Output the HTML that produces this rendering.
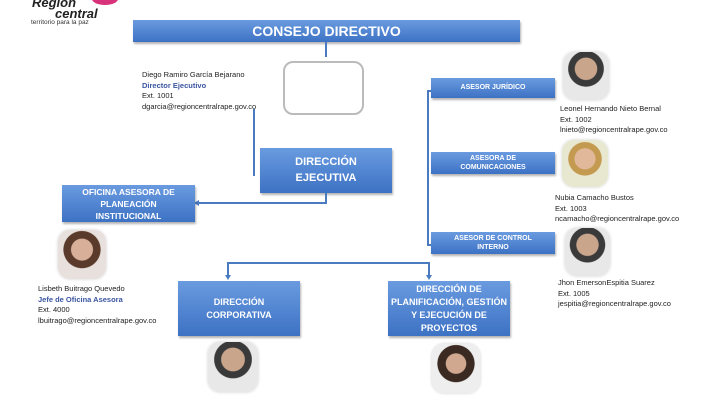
<!DOCTYPE html>
<html><head><meta charset="utf-8"><style>
body{margin:0;width:710px;height:400px;background:#fff;position:relative;overflow:hidden;font-family:"Liberation Sans",sans-serif}
.b{position:absolute;background:linear-gradient(#6a9be0,#3d72c4);color:#fff;font-weight:bold;text-align:center;display:flex;align-items:center;justify-content:center;box-shadow:1px 2px 2px rgba(0,0,0,.3);line-height:1.45}
.l{position:absolute;background:#4a7bc0}
.t{position:absolute;font-size:7.5px;line-height:10.5px;color:#222;white-space:nowrap}
.t b{color:#3a55a0;font-weight:bold}
.p{position:absolute;border-radius:12px;background:radial-gradient(circle at 50% 35%,#c9a58c 0 28%,#3a3a3a 30% 45%,#e8e8e8 47%);box-shadow:0 0 3px #ccc}
</style></head><body>
<div style="position:absolute;left:92px;top:-7px;width:26px;height:12px;background:#d8337a;border-radius:50%"></div>
<div style="position:absolute;left:32px;top:-3px;font:italic bold 13px 'Liberation Sans',sans-serif;color:#222;line-height:11px">Región</div>
<div style="position:absolute;left:55px;top:8px;font:italic bold 13px 'Liberation Sans',sans-serif;color:#222;line-height:11px">central</div>
<div style="position:absolute;left:31px;top:19px;font-size:6.5px;color:#333;line-height:7px">territorio para la paz</div>

<div class="b" style="left:133px;top:20px;width:387px;height:22px;font-size:14px">CONSEJO DIRECTIVO</div>
<div class="l" style="left:325px;top:42px;width:2px;height:15px"></div>
<div style="position:absolute;left:283px;top:61px;width:77px;height:50px;border:2.5px solid #bbb;border-radius:10px"></div>
<div class="t" style="left:142px;top:70px">Diego Ramiro García Bejarano<br><b>Director Ejecutivo</b><br>Ext. 1001<br>dgarcia@regioncentralrape.gov.co</div>
<div class="l" style="left:253px;top:109px;width:2px;height:67px"></div>
<div class="b" style="left:260px;top:148px;width:132px;height:45px;font-size:11px">DIRECCIÓN<br>EJECUTIVA</div>
<div class="l" style="left:325px;top:193px;width:2px;height:10px"></div>
<div class="l" style="left:197px;top:202px;width:130px;height:2px"></div>
<div style="position:absolute;left:194px;top:200px;border:3px solid transparent;border-right:5px solid #4a7bc0;border-left:0"></div>
<div class="b" style="left:62px;top:185px;width:133px;height:37px;font-size:8.5px;line-height:12px">OFICINA ASESORA DE<br>PLANEACIÓN<br>INSTITUCIONAL</div>

<div class="l" style="left:427px;top:90px;width:2px;height:156px"></div>
<div class="l" style="left:427px;top:90px;width:5px;height:2px"></div>
<div class="l" style="left:427px;top:244px;width:5px;height:2px"></div>
<div class="b" style="left:431px;top:78px;width:124px;height:20px;font-size:7px">ASESOR JURÍDICO</div>
<div class="b" style="left:431px;top:152px;width:124px;height:22px;font-size:7px;line-height:9px">ASESORA DE<br>COMUNICACIONES</div>
<div class="b" style="left:431px;top:232px;width:124px;height:22px;font-size:7px;line-height:9px">ASESOR DE CONTROL<br>INTERNO</div>

<div class="p" style="left:563px;top:52px;width:46px;height:48px"></div>
<div class="t" style="left:560px;top:104px">Leonel Hernando Nieto Bernal<br>Ext. 1002<br>lnieto@regioncentralrape.gov.co</div>
<div class="p" style="left:562px;top:140px;width:46px;height:47px;background:radial-gradient(circle at 50% 40%,#e2b89a 0 28%,#c49a50 30% 45%,#e8e8d0 47%)"></div>
<div class="t" style="left:555px;top:193px">Nubia Camacho Bustos<br>Ext. 1003<br>ncamacho@regioncentralrape.gov.co</div>
<div class="p" style="left:565px;top:228px;width:45px;height:48px"></div>
<div class="t" style="left:558px;top:278px">Jhon EmersonEspitia Suarez<br>Ext. 1005<br>jespitia@regioncentralrape.gov.co</div>

<div class="p" style="left:58px;top:230px;width:48px;height:49px;background:radial-gradient(circle at 50% 40%,#d8b09a 0 28%,#5a3a2a 30% 48%,#e8e0dc 50%)"></div>
<div class="t" style="left:38px;top:284px">Lisbeth Buitrago Quevedo<br><b>Jefe de Oficina Asesora</b><br>Ext. 4000<br>lbuitrago@regioncentralrape.gov.co</div>

<div class="l" style="left:227px;top:262px;width:203px;height:2px"></div>
<div class="l" style="left:227px;top:262px;width:2px;height:14px"></div>
<div class="l" style="left:428px;top:262px;width:2px;height:14px"></div>
<div style="position:absolute;left:225px;top:275px;border:3px solid transparent;border-top:5px solid #4a7bc0;border-bottom:0"></div>
<div style="position:absolute;left:426px;top:275px;border:3px solid transparent;border-top:5px solid #4a7bc0;border-bottom:0"></div>
<div class="b" style="left:178px;top:281px;width:122px;height:55px;font-size:9px;line-height:13px">DIRECCIÓN<br>CORPORATIVA</div>
<div class="b" style="left:388px;top:281px;width:122px;height:55px;font-size:9px;line-height:13px">DIRECCIÓN DE<br>PLANIFICACIÓN, GESTIÓN<br>Y EJECUCIÓN DE<br>PROYECTOS</div>
<div class="p" style="left:208px;top:342px;width:50px;height:50px"></div>
<div class="p" style="left:432px;top:344px;width:48px;height:49px;background:radial-gradient(circle at 50% 40%,#d0a890 0 26%,#3a2a22 28% 48%,#eee 50%)"></div>
</body></html>
